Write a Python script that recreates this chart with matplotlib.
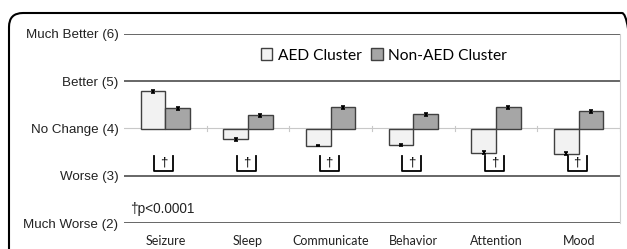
import matplotlib
matplotlib.use("Agg")
import matplotlib.pyplot as plt
from matplotlib.patches import Patch, FancyBboxPatch
from matplotlib.transforms import IdentityTransform
import numpy as np

# data
categories = ["Seizure", "Sleep", "Communicate", "Behavior", "Attention", "Mood"]
aed = [4.79, 3.77, 3.64, 3.66, 3.49, 3.47]
non_aed = [4.43, 4.28, 4.45, 4.30, 4.45, 4.36]
aed_err = [0.03, 0.03, 0.02, 0.02, 0.03, 0.03]
non_aed_err = [0.03, 0.03, 0.03, 0.03, 0.03, 0.03]
ytick_vals = [2, 3, 4, 5, 6]
ytick_labels = ["Much Worse (2)", "Worse (3)", "No Change (4)", "Better (5)", "Much Better (6)"]

fig = plt.figure(figsize=(6.27, 2.49), dpi=100)
ax = fig.add_axes([124 / 627, 26 / 249, 496 / 627, 189 / 249])

x = np.arange(len(categories)) + 0.5
w = 0.3
base = 4

ax.bar(x - w / 2, np.array(aed) - base, w, bottom=base, color="#f2f2f2",
       edgecolor="#404040", linewidth=1, zorder=3)
ax.bar(x + w / 2, np.array(non_aed) - base, w, bottom=base, color="#a6a6a6",
       edgecolor="#404040", linewidth=1, zorder=3)
ax.errorbar(x - w / 2, aed, yerr=aed_err, fmt="none", ecolor="black",
            elinewidth=1.6, capsize=1.2, capthick=1.2, zorder=4)
ax.errorbar(x + w / 2, non_aed, yerr=non_aed_err, fmt="none", ecolor="black",
            elinewidth=1.6, capsize=1.2, capthick=1.2, zorder=4)

# gridlines
for v in [2, 3, 5, 6]:
    ax.axhline(v, color="#5a5a5a", lw=1.3, zorder=1)
ax.axhline(4, color="#c8c8c8", lw=0.8, zorder=2)
# small category ticks on the "no change" line
for b in range(1, len(categories) + 1):
    ax.plot([b, b], [3.94, 4.06], color="#c8c8c8", lw=0.8, zorder=2)

# significance brackets
bw = 0.23
for xi in x:
    xc = xi - 0.02
    ax.plot([xc - bw / 2, xc - bw / 2, xc + bw / 2, xc + bw / 2],
            [3.42, 3.09, 3.09, 3.42], color="black", lw=1.3, zorder=3)
    ax.text(xc, 3.28, "\u2020", ha="center", va="center", fontsize=9.5,
            family="Liberation Sans")

ax.text(0.07, 2.30, "\u2020p<0.0001", ha="left", va="center", fontsize=9.8,
        family="Liberation Sans", color="#222222")

for xi, c in zip(x, categories):
    ax.text(xi, -0.095, c, transform=ax.get_xaxis_transform(), ha="center",
            va="center", fontsize=9, family="Lato", color="#222222")

ax.set_xlim(0, len(categories))
ax.set_ylim(2, 6)
ax.set_yticks(ytick_vals)
ax.set_yticklabels(ytick_labels, fontsize=9.6, family="Liberation Sans", color="#222222")
ax.tick_params(axis="y", length=0, pad=4)
ax.set_xticks([])
for s in ["left", "top", "bottom"]:
    ax.spines[s].set_visible(False)
ax.spines["right"].set_color("#d0d0d0")
ax.spines["right"].set_linewidth(0.8)

handles = [Patch(facecolor="#f2f2f2", edgecolor="#404040", label="AED Cluster"),
           Patch(facecolor="#a6a6a6", edgecolor="#404040", label="Non-AED Cluster")]
ax.legend(handles=handles, loc="center", bbox_to_anchor=(0.524, 0.886), ncol=2,
          frameon=False, handlelength=0.75, handleheight=0.75, handletextpad=0.35,
          columnspacing=0.6, prop={"family": "Lato", "size": 11.2})

# rounded outer frame
frame = FancyBboxPatch((9, -30), 627, 266, boxstyle="round,pad=0,rounding_size=14",
                       transform=IdentityTransform(), fill=False, edgecolor="black",
                       linewidth=1.5)
fig.add_artist(frame)

fig.savefig("out.png", dpi=100)
